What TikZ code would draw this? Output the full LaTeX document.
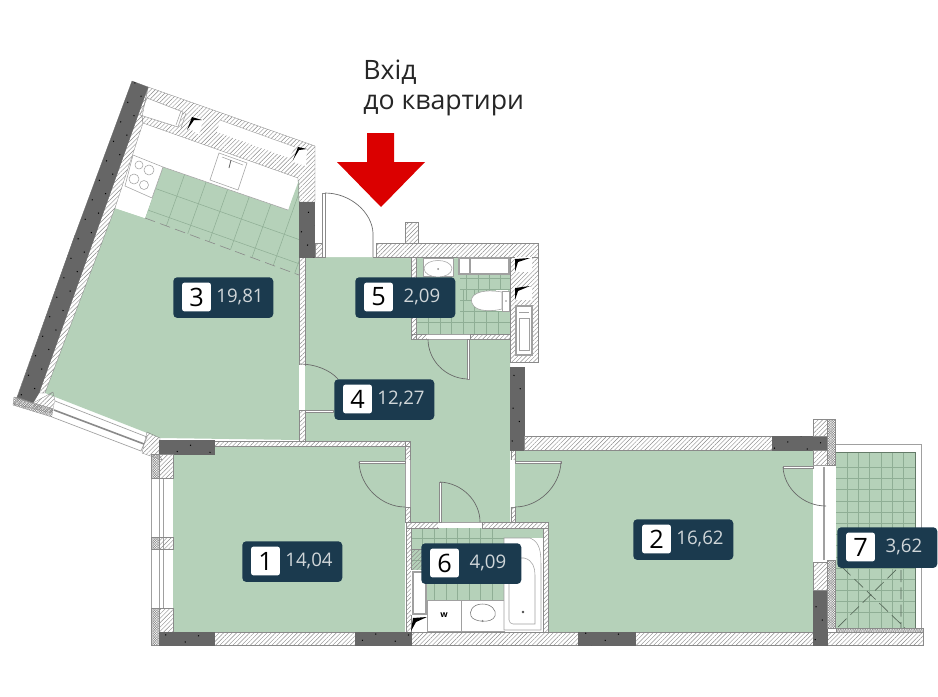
\documentclass[tikz,border=0pt]{standalone}
\usepackage{fontspec}
\setmainfont{Open Sans}
\usetikzlibrary{patterns.meta}
\definecolor{roomg}{HTML}{B5D1B9}
\definecolor{tileg}{HTML}{8FAE95}
\definecolor{hatchc}{HTML}{8A8A8A}
\definecolor{darkc}{HTML}{666666}
\definecolor{tagc}{HTML}{1B3A4E}
\definecolor{areac}{HTML}{D0D6D9}
\definecolor{fixc}{HTML}{A0A0A0}
\definecolor{arrowc}{HTML}{DB0000}
\tikzset{
 room/.style={fill=roomg,draw=none},
 hatchw/.style={pattern={Lines[angle=45,distance=2.3pt,line width=.33pt]},pattern color=hatchc,draw=hatchc,line width=.25pt},
 stip/.style={pattern={Hatch[angle=45,distance=1.3pt,line width=.3pt]},pattern color=hatchc,draw=hatchc,line width=.25pt},
 darkw/.style={fill=darkc,draw=darkc,line width=.2pt,postaction={pattern={Dots[distance=11pt,radius=.55pt,angle=25]},pattern color=black}},
 whitew/.style={fill=white,draw=none},
 fix/.style={draw=fixc,line width=.4pt,fill=white},
 tile/.style={draw=tileg,line width=.4pt},
 doorline/.style={draw=hatchc,line width=.45pt},
 leaf/.style={draw=hatchc,line width=.4pt,fill=white},
 swing/.style={draw=hatchc!75!black,line width=.5pt},
 tagbox/.style={fill=tagc,draw=none,rounded corners=3pt,minimum width=75pt,minimum height=30.5pt,inner sep=0pt,anchor=north west},
 tagnum/.style={fill=white,rounded corners=2pt,minimum width=21.7pt,minimum height=21.7pt,inner sep=0pt,text=black,font=\fontsize{19}{20}\selectfont},
 tagarea/.style={text=areac,inner sep=0pt,font=\fontsize{14}{15}\selectfont},
 title/.style={anchor=west,inner sep=0pt,text=black!85,font=\fontsize{20}{24}\selectfont}
}
\newcommand{\roomtag}[5]{%
 \node[tagbox] (tag#1) at (#2,#3) {};
 \node[tagnum] (num#1) at (#2+23.5,#3+20) {#4};
 \node[tagarea] (area#1) at (#2+67,#3+20) {#5};
}
\begin{document}
\begin{tikzpicture}[x=0.75pt,y=-0.75pt]
\useasboundingbox (0,0) rectangle (938,696);
\fill[white] (0,0) rectangle (938,696);

% rooms
\path[room] (115,208) -- (145,218) -- (163,167) -- (288,210) -- (299,180) -- (299,440) -- (160,438) -- (45,393) -- cycle;
\path[room] (305,257) -- (411,257) -- (411,339) -- (510,339) -- (510,522) -- (410,522) -- (410,441) -- (305,441) -- cycle;
\path[room] (416,257) rectangle (510,334);
\path[room] (173,446) rectangle (405,632);
\path[room] (515,450) -- (813,450) -- (813,632) -- (548,632) -- (548,522) -- (515,522) -- cycle;
\path[room] (411,528) rectangle (543,600);
\path[room] (836,452) rectangle (915,628);

% kitchen tiles
\begin{scope}
\clip (145,218) -- (163,167) -- (288,210) -- (299,180) -- (299,275) -- cycle;
\foreach \i in {-2,...,8} \draw[tile] ({163+\i*21.5+33.5},{167+\i*7.6-94.3}) -- ({163+\i*21.5-50},{167+\i*7.6+141});
\foreach \j in {1,...,4} \draw[tile] ({163+\j*(-7.6)-40},{167+\j*21.5-14.2}) -- ({163+\j*(-7.6)+190},{167+\j*21.5+67.5});
\end{scope}
\draw[draw=hatchc,line width=.45pt,dash pattern=on 8pt off 4pt] (145,218) -- (299,275);

% bath tiles
\begin{scope}
\clip (416,257) rectangle (510,334);
\foreach \x in {428,440,451,463,474,486,498} \draw[tile] (\x,290) -- (\x,334);
\foreach \x in {466,478,489,500} \draw[tile] (\x,258) -- (\x,300);
\foreach \y in {278,289,300,311,322} \draw[tile] (460,\y) -- (510,\y);
\draw[tile] (416,322) -- (510,322);
\end{scope}

% bathroom 6 tiles
\begin{scope}
\clip (411,528) rectangle (504,600);
\foreach \x in {422,434,446,457,469,480,492} \draw[tile] (\x,528) -- (\x,600);
\foreach \y in {538,549,560,571,582} \draw[tile] (411,\y) -- (504,\y);
\end{scope}

% balcony tiles
\begin{scope}
\clip (836,452) rectangle (915,628);
\foreach \x in {847,858,869,881,892,903} \draw[tile] (\x,452) -- (\x,628);
\foreach \y in {467,478,489,501,512,523,534,545,557,568,579,590,601,612} \draw[tile] (836,\y) -- (915,\y);
\end{scope}
\draw[draw=fixc,line width=.5pt] (836,444) -- (921,444) -- (921,628);
\draw[draw=tileg!70!black,line width=.5pt] (836,452) -- (915,452) -- (915,628);
\draw[draw=tileg!60!black,line width=.5pt,dash pattern=on 9pt off 4pt] (838,627) -- (900,566) (842,567) -- (905,628) (901,570) -- (901,628);

% kitchen white furniture
\fill[white] (143,123) -- (298,178) -- (288,210) -- (163,167) -- (145,218) -- (115,208) -- cycle;
\draw[fix] (133,155) -- (163,167) -- (152,198) -- (125,186) -- cycle;
\foreach \cx/\cy/\r in {139/165/4,149/170/5,134/179/5,144/185/4.5} \draw[fixc,line width=.4pt] (\cx,\cy) circle[radius=\r];
\draw[fix] (219,153) -- (247,163) -- (238,190) -- (210,180) -- cycle;
\draw[fixc,line width=.4pt] (222,157) -- (243,165);
\draw[fixc!60!black,line width=.6pt] (231,160) -- (229,168);
\draw[fixc,line width=.4pt] (163,167) -- (288,210);

% upper kitchen wall
\path[hatchw] (148,87) -- (315,146) -- (315,202) -- (299,202) -- (298,178) -- (143,123) -- (142,117) -- cycle;
\fill[white] (147,98) -- (183,112) -- (178,127) -- (140,115) -- cycle;
\draw[fixc,line width=.4pt] (147,98) -- (183,112) -- (178,127) -- (140,115) -- cycle;
\draw[fixc,line width=.4pt] (181,111) -- (176,125) (186,113) -- (181,128);
\fill[white] (189,128) -- (194,116) -- (203,120) -- (199,135) -- cycle;
\fill[black] (187,130) -- (192,117) -- (202,120) -- (194,120) -- cycle;
\fill[white] (220,120) -- (295,147) -- (289,158) -- (217,132) -- cycle;
\draw[fixc,line width=.3pt] (220,120) -- (295,147);
\fill[white] (293,162) -- (298,147) -- (307,150) -- (306,166) -- cycle;
\fill[black] (293,160) -- (298,147) -- (307,149) -- (299,150) -- cycle;

% left wall
\path[hatchw] (142,117) -- (143,123) -- (115,208) -- (45,393) -- (39,393) -- (148,87) -- cycle;
\path[hatchw] (75,235) -- (72,250) -- (21,392) -- (17,397) -- cycle;
\path[darkw] (132,81) -- (148,87) -- (39,393) -- (33,403) -- (17,398) -- (75,235) -- cycle;

% lower window of room 3
\path[hatchw] (33,403) -- (53,392) -- (55,401) -- (52,413) -- (14,404) -- (17,397) -- cycle;
\path[stip] (14,397) -- (54,409) -- (52,417) -- (13,405) -- cycle;
\fill[white] (55,401) -- (147,437) -- (140,452) -- (52,417) -- cycle;
\draw[fixc,line width=.5pt] (55,401) -- (147,437) -- (141,451) -- (52,417);
\draw[hatchc,line width=1.2pt] (54,410) -- (144,444);
\path[hatchw] (147,432) -- (160,438) -- (159,454) -- (162,460) -- (142,453) -- cycle;

% walls around room 4
\path[hatchw] (299,257) rectangle (305,365);
\path[hatchw] (299,410) rectangle (305,441);
\fill[white] (299,365) rectangle (305,410);
\path[darkw] (299,202) rectangle (314,257);
\path[hatchw] (315,243) rectangle (322,257);
\path[hatchw] (376,243) rectangle (538,257);
\path[hatchw] (405,222) rectangle (418,243);
\path[hatchw] (411,257) rectangle (416,339);
\path[hatchw] (411,334) rectangle (427,339);
\path[hatchw] (470,334) rectangle (510,339);
\fill[white] (427,334) rectangle (470,339);
\draw[fixc,line width=.4pt] (427,334) -- (470,334) (427,339) -- (467,339);

% shaft
\path[hatchw] (510,257) rectangle (538,362);
\fill[white] (515,257) rectangle (532,272);
\fill[black] (515,272) -- (515,259) -- (530,258) -- (518,262) -- cycle;
\fill[white] (515,287) rectangle (532,300);
\fill[black] (515,300) -- (515,288) -- (530,286) -- (518,291) -- cycle;
\draw[fix,line width=1.1pt] (516,306) rectangle (532,355);
\draw[fixc,line width=.4pt] (519,312) -- (529,312) (519,318) -- (529,318) (519,318) rectangle (529,350);

% bathroom fixtures
\fill[white] (423,258) rectangle (453,276);
\draw[fixc,line width=.4pt] (423,258) rectangle (453,276);
\draw[fix] (424,268) .. controls (426,258) and (450,258) .. (452,268) .. controls (452,280) and (424,280) .. (424,268) -- cycle;
\fill[hatchc] (438,269) circle[radius=1];
\draw[fix,line width=1pt] (459,258) rectangle (509,274);
\draw[fixc,line width=.8pt] (470,258) -- (470,274);
\fill[white] (496,290) -- (508,290) -- (508,311) -- (496,311) -- cycle;
\draw[fix] (502,291) rectangle (509,311);
\draw[fix] (502,292) .. controls (478,288) and (469,296) .. (472,303) .. controls (475,313) and (495,311) .. (502,309) -- cycle;
\fill[hatchc] (506,301) circle[radius=.8];

% room 1 walls
\path[hatchw] (214,441) rectangle (410,446);
\path[hatchw] (405,441) rectangle (410,460);
\path[hatchw] (405,507) rectangle (410,522);
\fill[white] (405,460) rectangle (410,507);
\draw[fixc,line width=.3pt] (405,460) -- (405,507) (410,460) -- (410,507);
\path[darkw] (159,440) rectangle (214,454);
\fill[white] (151,478) rectangle (173,608);
\draw[fixc,line width=.5pt] (151,478) -- (151,608) (159,478) -- (159,608) (163,478) -- (163,608);
\path[stip] (151,454) rectangle (159,478);
\path[hatchw] (159,454) rectangle (173,478);
\path[stip] (151,537) rectangle (159,549);
\path[hatchw] (159,537) rectangle (173,549);
\path[stip] (151,608) rectangle (159,645);
\path[hatchw] (159,608) rectangle (173,632);

% hall / room 2 walls
\path[hatchw] (511,450) rectangle (515,460);
\path[hatchw] (511,507) rectangle (515,522);
\fill[white] (510,460) rectangle (515,507);
\path[darkw] (510,367) rectangle (524,450);
\path[hatchw] (524,436) rectangle (772,450);
\path[darkw] (772,436) rectangle (827,450);

% room 6 walls and fixtures
\path[hatchw] (406,522) rectangle (438,528);
\path[hatchw] (482,522) rectangle (548,528);
\fill[white] (438,522) rectangle (482,528);
\draw[fixc,line width=.3pt] (438,522) -- (482,522);
\path[hatchw] (406,528) rectangle (411,632);
\path[hatchw] (543,528) rectangle (548,632);
\path[hatchw] (411,549) rectangle (427,570);
\fill[white] (411,570) rectangle (427,615);
\draw[fixc,line width=.8pt] (413,572) rectangle (426,614);
\fill[black] (411,631) -- (413,618) -- (427,617) -- (416,622) -- cycle;
\fill[white] (427,600) rectangle (504,631);
\draw[fixc,line width=.4pt] (427,600) rectangle (461,631) (461,600) rectangle (504,631);
\node[inner sep=0pt,text=black,font=\fontsize{6.5}{7}\bfseries\selectfont] (wm) at (444,615.5) {w};
\draw[fixc!70!black,line width=.4pt] (482.5,604) .. controls (472,604) and (469,612) .. (471,616) .. controls (473,622) and (492,624) .. (495,616) .. controls (497,610) and (491,604) .. (482.5,604) -- cycle;
\fill[hatchc] (482.5,621) circle[radius=1.2];
\fill[white] (504,538) rectangle (543,631);
\draw[fix] (504,538) -- (530,538) .. controls (540,542) and (541,552) .. (541,565) -- (541,630) -- (504,630) -- cycle;
\draw[fixc,line width=.4pt] (509,558) -- (524,558) .. controls (533,560) and (535,568) .. (535,575) -- (535,624) -- (513,624) .. controls (511,624) and (509,622) .. (509,620) -- cycle;
\fill[black!70] (523,612) circle[radius=1.3];

% bottom wall
\path[hatchw] (214,632) rectangle (355,645);
\path[hatchw] (411,632) rectangle (578,645);
\path[hatchw] (635,632) rectangle (813,645);
\path[hatchw] (827,632) rectangle (923,645);
\path[stip] (836,628) rectangle (923,632);
\path[darkw] (159,632) rectangle (214,645);
\path[darkw] (355,632) rectangle (411,645);
\path[darkw] (578,632) rectangle (635,645);
\path[darkw] (813,590) rectangle (827,645);

% right wall
\path[hatchw] (813,419) rectangle (827,436);
\path[stip] (827,419) rectangle (835,465);
\path[hatchw] (813,450) rectangle (827,465);
\fill[white] (813,465) rectangle (827,562);
\draw[fixc,line width=.9pt] (824,467) -- (824,560);
\draw[fixc,line width=.4pt] (813,465) -- (827,465);
\path[hatchw] (813,562) rectangle (827,590);
\path[stip] (827,560) rectangle (835,628);

% doors
\fill[white] (322,193) -- (325,193) .. controls (350,193) and (373,212) .. (373,233) -- (373,257) -- (322,257) -- cycle;
\draw[leaf] (322,193) rectangle (325,257);
\draw[swing] (325,193) .. controls (350,193) and (372,212) .. (373,233) -- (373,257);
\draw[doorline] (373,257) -- (376,257);
\draw[leaf] (305,410) rectangle (333,412);
\draw[swing] (300,364) .. controls (315,364) and (330,370) .. (338,379);
\draw[leaf] (467,339) rectangle (469,379);
\draw[swing] (467,379) .. controls (445,378) and (428,360) .. (428,339);
\draw[leaf] (359,461) rectangle (405,463);
\draw[swing] (359,462) .. controls (360,487) and (382,507) .. (405,507);
\draw[leaf] (515,461) rectangle (561,463);
\draw[swing] (561,462) .. controls (560,487) and (538,507) .. (515,507);
\draw[leaf] (439,482) rectangle (441,522);
\draw[swing] (440,482) .. controls (462,483) and (480,501) .. (480,522);
\draw[leaf] (783,466) rectangle (813,468);
\draw[swing] (783,467) .. controls (784,488) and (803,506) .. (826,506);

% labels
\roomtag{3}{173}{277}{3}{19,81}
\roomtag{5}{355}{277}{5}{2,09}
\roomtag{4}{334}{379}{4}{12,27}
\roomtag{1}{242}{541}{1}{14,04}
\roomtag{6}{421}{543}{6}{4,09}
\roomtag{2}{633}{519}{2}{16,62}
\roomtag{7}{837}{527}{7}{3,62}

% entrance
\fill[arrowc] (367,133) -- (394,133) -- (394,162) -- (425,162) -- (381,207) -- (337,162) -- (367,162) -- cycle;
\node[title] (entry1) at (363,72) {Вхід};
\node[title] (entry2) at (363,105) {до квартири};
\end{tikzpicture}
\end{document}
